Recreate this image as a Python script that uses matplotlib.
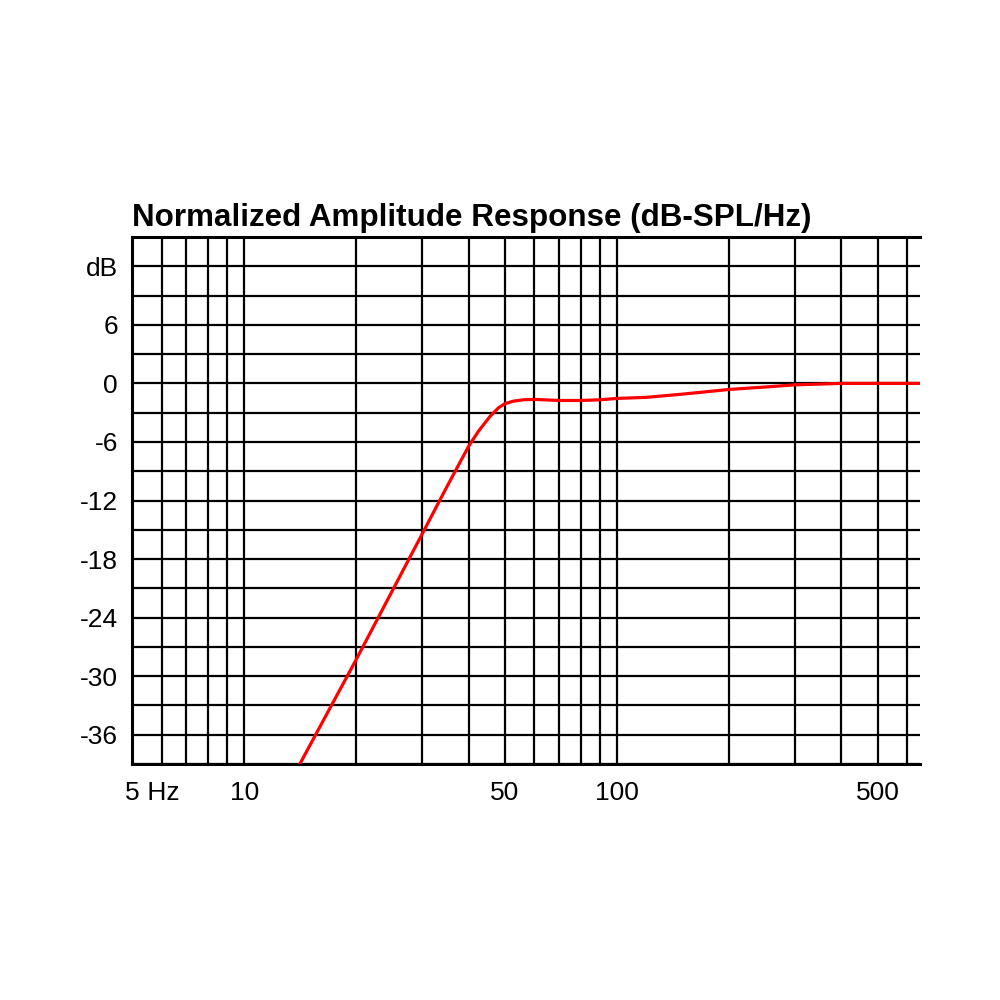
import matplotlib
matplotlib.use("Agg")
from matplotlib import pyplot as plt

plt.rcParams['font.family'] = ['Liberation Sans', 'DejaVu Sans']

# response curve (Hz, dB)
freq = [14.1, 20, 25, 30, 34.3, 36.4, 40, 42.5, 45.7, 48.1, 50, 52.7, 56.1,
        60, 70, 80, 90, 100, 120, 150, 200, 250, 300, 350, 400, 500, 650]
level = [-39.0, -28.25, -21.2, -15.45, -11.2, -9.35, -6.44, -4.9, -3.36, -2.5,
         -2.09, -1.82, -1.68, -1.64, -1.75, -1.75, -1.68, -1.54, -1.43, -1.1,
         -0.62, -0.37, -0.15, -0.07, 0.0, 0.0, 0.0]

x_grid = [5, 6, 7, 8, 9, 10, 20, 30, 40, 50, 60, 70, 80, 90, 100,
          200, 300, 400, 500, 600]
x_labels = {5: "5", 10: "10", 50: "50", 100: "100", 500: "500"}
y_grid = list(range(-39, 16, 3))
y_labels = {12: "dB", 6: "6", 0: "0", -6: "-6", -12: "-12", -18: "-18",
            -24: "-24", -30: "-30", -36: "-36"}

fig = plt.figure(figsize=(10, 10), dpi=100)
ax = fig.add_axes([0.132, 0.236, 0.788, 0.527])

ax.plot(freq, level, color="red", linewidth=2.3, zorder=3)

ax.set_xscale("log")
ax.set_xlim(5, 650)
ax.set_ylim(-39, 15)

ax.set_xticks(x_grid)
ax.set_xticklabels([x_labels.get(v, "") for v in x_grid])
ax.xaxis.set_minor_locator(matplotlib.ticker.NullLocator())
ax.set_yticks(y_grid)
ax.set_yticklabels([y_labels.get(v, "") for v in y_grid])

ax.tick_params(axis="both", length=0, labelsize=19)
ax.tick_params(axis="x", pad=12)
ax.tick_params(axis="y", pad=10)
ax.grid(True, color="black", linewidth=1.6)
ax.set_axisbelow(True)

for side in ["left", "bottom", "top"]:
    ax.spines[side].set_linewidth(2.2)
ax.spines["right"].set_visible(False)

ax.annotate(" Hz", xy=(5, 0), xycoords=("data", "axes fraction"),
            xytext=(5.5, -12), textcoords="offset points",
            ha="left", va="top", fontsize=19)

ax.set_title("Normalized Amplitude Response (dB-SPL/Hz)", loc="left",
             fontweight="bold", fontsize=22.6, pad=8)

fig.savefig("out.png", dpi=100)
